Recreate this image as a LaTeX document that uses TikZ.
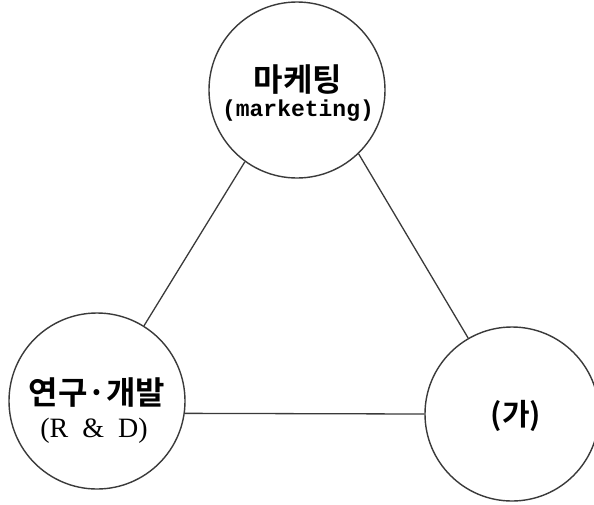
\documentclass[tikz,border=0pt]{standalone}
\usepackage{fontspec}
\newfontfamily\kr{Noto Sans CJK KR}[BoldFont={Noto Sans CJK KR Bold}]
\newfontfamily\mono{Liberation Mono}
\newfontfamily\lserif{Liberation Serif}
\definecolor{ink}{HTML}{3A3A3A}
\tikzset{
  bubble/.style={circle, draw=ink, line width=1.4pt, fill=white, inner sep=0pt},
  link/.style={draw=ink, line width=1.3pt},
  krtxt/.style={font=\kr\bfseries\fontsize{32}{34}\selectfont, inner sep=0pt, text=black},
}
\begin{document}
\begin{tikzpicture}[x=1pt,y=-1pt]
\useasboundingbox (0,0) rectangle (594,504);
\node[bubble, minimum size=176pt] (mk) at (297,90) {};
\node[bubble, minimum size=176pt] (rd) at (97,401) {};
\node[bubble, minimum size=174pt] (ga) at (512,414) {};
\draw[link] (mk.-46) -- (ga.120);
\draw[link] (mk.234) -- (rd.58);
\draw[link] (rd.-8.5) -- (ga.180);
\node[krtxt] (mkk) at (298,80) {마케팅};
\node[font=\mono\bfseries\fontsize{23}{25}\selectfont, inner sep=0pt] (mke) at (298,111) {(marketing)};
\node[krtxt] (rdk) at (97,393) {연구·개발};
\node[font=\lserif\fontsize{28}{30}\selectfont, inner sep=0pt] (rde) at (94,431) {(R\hspace{14pt}\&\hspace{14pt}D)};
\node[krtxt, font=\kr\bfseries\fontsize{30}{32}\selectfont] (gak) at (516,416) {(가)};
\end{tikzpicture}
\end{document}
